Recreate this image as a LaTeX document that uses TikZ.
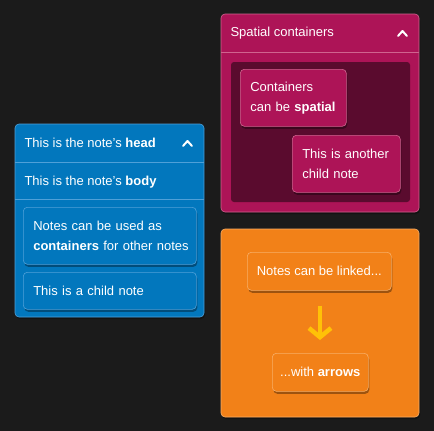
\documentclass[tikz,border=0pt]{standalone}
\usepackage{fontspec}
\setmainfont{Liberation Sans}
\usetikzlibrary{shadows,arrows.meta}
\definecolor{bg}{HTML}{1B1B1B}
\definecolor{nblue}{HTML}{0277BD}
\definecolor{nbluel}{HTML}{4FA0D8}
\definecolor{npink}{HTML}{AD1457}
\definecolor{npinkl}{HTML}{D0648F}
\definecolor{npinkd}{HTML}{5A0B2E}
\definecolor{norange}{HTML}{F28118}
\definecolor{norangel}{HTML}{F8AE66}
\definecolor{arrowy}{HTML}{FFC107}
\tikzset{
  x=1pt, y=-1pt,
  every node/.style={font=\fontsize{13}{20}\selectfont, text=white},
  mainnote/.style={rounded corners=4pt, draw=#1, line width=0.6pt},
  childnote/.style={rounded corners=4pt, line width=0.6pt, anchor=north west,
    inner xsep=10pt, inner ysep=0pt, align=left,
    drop shadow={shadow xshift=1pt, shadow yshift=-2.5pt, opacity=0.35, fill=black}},
  sep/.style={line width=0.6pt},
  chev/.style={white, line width=2pt, line cap=round, line join=round},
  linkarrow/.style={arrowy, line width=4.5pt, -{Straight Barb[length=9pt,width=22pt]}, shorten <=15pt, shorten >=13pt}
}
\begin{document}
\begin{tikzpicture}
\fill[bg] (0,0) rectangle (434,431);
\useasboundingbox (0,0) rectangle (434,431);

% ---------- blue note ----------
\fill[black, opacity=0.3, rounded corners=4pt] (16,127) rectangle (205,319);
\path[mainnote=nbluel, fill=nblue] (15,124) rectangle (204,317);
\draw[sep, nbluel] (15,162) -- (204,162);
\draw[sep, nbluel] (15,199) -- (204,199);
\node[anchor=west] (bhead) at (21,143) {This is the note's \textbf{head}};
\draw[chev] (183,146) -- (187.5,141) -- (192,146);
\node[anchor=west] (bbody) at (21,182) {This is the note's \textbf{body}};
\node[childnote, draw=nbluel, fill=nblue, minimum width=173pt, minimum height=57pt, text width=153pt] (bc1) at (23,207)
  {Notes can be used as\\\mbox{\textbf{containers} for other notes}};
\node[childnote, draw=nbluel, fill=nblue, minimum width=173pt, minimum height=37pt, text width=153pt] (bc2) at (23,272)
  {This is a child note};

% ---------- pink note ----------
\fill[black, opacity=0.3, rounded corners=4pt] (222,17) rectangle (420,214);
\path[mainnote=npinkl, fill=npink] (221,14) rectangle (419,212);
\draw[sep, npinkl] (221,52) -- (419,52);
\node[anchor=west] (phead) at (227,33) {Spatial containers};
\draw[chev] (398,36) -- (402.5,31) -- (407,36);
\fill[npinkd, rounded corners=3pt] (231,62) rectangle (410,202);
\node[childnote, draw=npinkl, fill=npink, minimum width=106pt, minimum height=57pt, text width=86pt] (pc1) at (240,69)
  {Containers\\can be \textbf{spatial}};
\node[childnote, draw=npinkl, fill=npink, minimum width=108pt, minimum height=57pt, text width=88pt] (pc2) at (292,135)
  {This is another\\child note};

% ---------- orange note ----------
\fill[black, opacity=0.3, rounded corners=4pt] (222,232) rectangle (420,419);
\path[mainnote=norangel, fill=norange] (221,229) rectangle (419,417);
\node[childnote, draw=norangel, fill=norange, minimum width=144pt, minimum height=38pt, align=center, inner xsep=4pt] (oc1) at (247,252)
  {Notes can be linked...};
\node[childnote, draw=norangel, fill=norange, minimum width=96pt, minimum height=38pt, align=center, inner xsep=4pt] (oc2) at (272,353)
  {...with \textbf{arrows}};
\draw[linkarrow] (oc1.south -| 320,0) -- (oc2.north -| 320,0);
\end{tikzpicture}
\end{document}
